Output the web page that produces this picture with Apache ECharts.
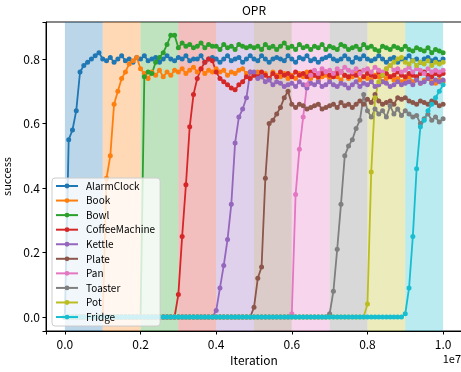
<!DOCTYPE html>
<html><head><meta charset="utf-8">
<script src="https://cdn.jsdelivr.net/npm/echarts@6/dist/echarts.min.js"></script>
<style>html,body{margin:0;padding:0;background:#fff}#c{width:461px;height:372px}</style>
</head><body><div id="c"></div>
<script>
const FONT = '"Noto Sans CJK SC", "Noto Sans", sans-serif';
const names = ['AlarmClock','Book','Bowl','CoffeeMachine','Kettle','Plate','Pan','Toaster','Pot','Fridge'];
const colors = ['#1f77b4','#ff7f0e','#2ca02c','#d62728','#9467bd','#8c564b','#e377c2','#7f7f7f','#bcbd22','#17becf'];
const stageEdges = [0,1e6,2e6,3e6,4e6,5e6,6e6,7e6,8e6,9e6,1e7];
const xTicks = [0,2e6,4e6,6e6,8e6,1e7];
const yTicks = [0,0.2,0.4,0.6,0.8];
const iterations = [
 0,1e5,2e5,3e5,4e5,5e5,6e5,7e5,8e5,9e5,
 1e6,1.1e6,1.2e6,1.3e6,1.4e6,1.5e6,1.6e6,1.7e6,1.8e6,1.9e6,
 2e6,2.1e6,2.2e6,2.3e6,2.4e6,2.5e6,2.6e6,2.7e6,2.8e6,2.9e6,
 3e6,3.1e6,3.2e6,3.3e6,3.4e6,3.5e6,3.6e6,3.7e6,3.8e6,3.9e6,
 4e6,4.1e6,4.2e6,4.3e6,4.4e6,4.5e6,4.6e6,4.7e6,4.8e6,4.9e6,
 5e6,5.1e6,5.2e6,5.3e6,5.4e6,5.5e6,5.6e6,5.7e6,5.8e6,5.9e6,
 6e6,6.1e6,6.2e6,6.3e6,6.4e6,6.5e6,6.6e6,6.7e6,6.8e6,6.9e6,
 7e6,7.1e6,7.2e6,7.3e6,7.4e6,7.5e6,7.6e6,7.7e6,7.8e6,7.9e6,
 8e6,8.1e6,8.2e6,8.3e6,8.4e6,8.5e6,8.6e6,8.7e6,8.8e6,8.9e6,
 9e6,9.1e6,9.2e6,9.3e6,9.4e6,9.5e6,9.6e6,9.7e6,9.8e6,9.9e6,
 1e7];

const alarmClock = [
 0,.55,.58,.64,.76,.78,.79,.80,.81,.82,
 .80,.795,.805,.79,.80,.81,.795,.80,.79,.805,
 .80,.81,.795,.80,.805,.79,.80,.81,.80,.795,
 .805,.80,.81,.795,.80,.80,.81,.79,.80,.805,
 .80,.79,.80,.81,.795,.80,.805,.79,.80,.81,
 .80,.795,.81,.80,.79,.80,.805,.80,.795,.81,
 .80,.79,.805,.80,.81,.795,.80,.79,.80,.805,
 .81,.80,.795,.80,.81,.80,.79,.805,.80,.81,
 .80,.795,.80,.81,.80,.79,.80,.805,.79,.80,
 .80,.81,.795,.80,.79,.80,.805,.795,.80,.79,
 .80];
const book = [
 0,0,0,0,0,0,0,0,0,0,
 0,.43,.50,.66,.70,.74,.76,.785,.795,.805,
 .77,.755,.74,.76,.75,.765,.745,.76,.75,.765,
 .76,.77,.755,.765,.775,.76,.77,.755,.765,.76,
 .77,.76,.765,.75,.76,.755,.765,.77,.755,.76,
 .75,.76,.745,.755,.74,.76,.75,.745,.755,.74,
 .75,.74,.755,.745,.76,.74,.75,.735,.745,.75,
 .74,.755,.745,.735,.75,.74,.745,.755,.735,.745,
 .74,.735,.75,.745,.73,.74,.745,.735,.74,.73,
 .735,.745,.73,.74,.725,.735,.74,.73,.725,.735,
 .73];
const bowl = [
 0,0,0,0,0,0,0,0,0,0,
 0,0,0,0,0,0,0,0,0,0,
 0,.745,.76,.755,.79,.805,.82,.845,.874,.874,
 .835,.85,.84,.845,.835,.84,.85,.835,.845,.84,
 .84,.83,.845,.835,.84,.83,.845,.84,.835,.84,
 .835,.84,.83,.845,.835,.84,.83,.84,.85,.835,
 .84,.83,.845,.835,.84,.83,.84,.835,.845,.83,
 .84,.835,.83,.845,.84,.83,.835,.84,.83,.845,
 .835,.84,.83,.825,.84,.835,.83,.84,.835,.83,
 .84,.83,.825,.835,.83,.825,.835,.82,.83,.825,
 .82];
const coffeeMachine = [
 0,0,0,0,0,0,0,0,0,0,
 0,0,0,0,0,0,0,0,0,0,
 0,0,0,0,0,0,0,0,0,0,
 .07,.25,.41,.59,.69,.74,.77,.79,.80,.795,
 .76,.74,.73,.72,.71,.705,.72,.73,.745,.74,
 .75,.745,.76,.75,.74,.755,.745,.76,.75,.755,
 .745,.76,.75,.755,.745,.76,.75,.745,.755,.76,
 .75,.745,.755,.76,.75,.745,.755,.75,.76,.745,
 .755,.75,.745,.76,.75,.755,.745,.75,.76,.75,
 .745,.755,.75,.745,.755,.76,.75,.745,.755,.75,
 .755];
const kettle = [
 0,0,0,0,0,0,0,0,0,0,
 0,0,0,0,0,0,0,0,0,0,
 0,0,0,0,0,0,0,0,0,0,
 0,0,0,0,0,0,0,0,0,0,
 .02,.09,.16,.24,.35,.54,.62,.645,.68,.76,
 .76,.74,.745,.73,.735,.72,.73,.725,.715,.72,
 .725,.715,.73,.72,.71,.725,.72,.73,.715,.72,
 .73,.72,.715,.725,.72,.71,.72,.73,.715,.725,
 .72,.73,.715,.72,.73,.725,.715,.72,.73,.72,
 .725,.73,.72,.735,.725,.73,.74,.725,.735,.73,
 .735];
const plate = [
 0,0,0,0,0,0,0,0,0,0,
 0,0,0,0,0,0,0,0,0,0,
 0,0,0,0,0,0,0,0,0,0,
 0,0,0,0,0,0,0,0,0,0,
 0,0,0,0,0,0,0,0,0,0,
 .03,.12,.155,.43,.60,.61,.63,.65,.68,.70,
 .66,.65,.66,.655,.645,.65,.655,.66,.645,.65,
 .655,.66,.65,.665,.655,.66,.65,.66,.67,.66,
 .675,.665,.69,.67,.66,.665,.67,.66,.68,.675,
 .68,.67,.665,.66,.67,.665,.66,.67,.665,.655,
 .66];
const pan = [
 0,0,0,0,0,0,0,0,0,0,
 0,0,0,0,0,0,0,0,0,0,
 0,0,0,0,0,0,0,0,0,0,
 0,0,0,0,0,0,0,0,0,0,
 0,0,0,0,0,0,0,0,0,0,
 0,0,0,0,0,0,0,0,0,0,
 .01,.38,.52,.62,.72,.75,.765,.755,.77,.76,
 .765,.755,.77,.76,.775,.765,.76,.77,.755,.765,
 .77,.76,.775,.765,.76,.77,.78,.765,.77,.76,
 .765,.775,.76,.77,.765,.755,.77,.76,.765,.76,
 .765];
const toaster = [
 0,0,0,0,0,0,0,0,0,0,
 0,0,0,0,0,0,0,0,0,0,
 0,0,0,0,0,0,0,0,0,0,
 0,0,0,0,0,0,0,0,0,0,
 0,0,0,0,0,0,0,0,0,0,
 0,0,0,0,0,0,0,0,0,0,
 0,0,0,0,0,0,0,0,0,0,
 .01,.08,.21,.35,.50,.53,.55,.585,.61,.69,
 .64,.62,.645,.63,.64,.62,.655,.63,.645,.625,
 .64,.63,.62,.625,.60,.615,.63,.61,.62,.605,
 .615];
const pot = [
 0,0,0,0,0,0,0,0,0,0,
 0,0,0,0,0,0,0,0,0,0,
 0,0,0,0,0,0,0,0,0,0,
 0,0,0,0,0,0,0,0,0,0,
 0,0,0,0,0,0,0,0,0,0,
 0,0,0,0,0,0,0,0,0,0,
 0,0,0,0,0,0,0,0,0,0,
 0,0,0,0,0,0,0,0,0,0,
 .04,.45,.68,.73,.75,.77,.78,.79,.80,.805,
 .79,.785,.795,.78,.79,.785,.795,.78,.79,.785,
 .79];
const fridge = [
 0,0,0,0,0,0,0,0,0,0,
 0,0,0,0,0,0,0,0,0,0,
 0,0,0,0,0,0,0,0,0,0,
 0,0,0,0,0,0,0,0,0,0,
 0,0,0,0,0,0,0,0,0,0,
 0,0,0,0,0,0,0,0,0,0,
 0,0,0,0,0,0,0,0,0,0,
 0,0,0,0,0,0,0,0,0,0,
 0,0,0,0,0,0,0,0,0,0,
 .01,.09,.25,.46,.59,.61,.64,.66,.68,.70,
 .72];
const seriesValues = [alarmClock, book, bowl, coffeeMachine, kettle, plate, pan, toaster, pot, fridge];

function rgba(hex, a) {
  const n = parseInt(hex.slice(1), 16);
  return 'rgba(' + ((n >> 16) & 255) + ',' + ((n >> 8) & 255) + ',' + (n & 255) + ',' + a + ')';
}
function isTick(list, v, tol) { return list.some(t => Math.abs(t - v) < tol); }

const chart = echarts.init(document.getElementById('c'), null, {renderer: 'canvas'});

const bandSeries = {
  type: 'line', data: [], z: 1, silent: true, animation: false,
  markArea: {
    silent: true,
    data: stageEdges.slice(0, -1).map((s, k) => [
      {xAxis: s, itemStyle: {color: rgba(colors[k], 0.3)}},
      {xAxis: stageEdges[k + 1]}
    ])
  }
};

const lineSeries = names.map((n, k) => ({
  name: n, type: 'line', z: 2,
  data: iterations.map((x, i) => [x, seriesValues[k][i]]),
  symbol: 'circle', symbolSize: 5, showSymbol: true,
  lineStyle: {width: 1.8, color: colors[k]},
  itemStyle: {color: colors[k]},
  emphasis: {disabled: true},
  animation: false
}));

chart.setOption({
  animation: false,
  textStyle: {fontFamily: FONT},
  grid: {left: 46, top: 22, right: -1, bottom: 41, outerBoundsMode: 'none', containLabel: false,
    show: true, borderColor: '#111', borderWidth: 1, backgroundColor: 'transparent'},
  xAxis: {
    type: 'value', min: -5e5, max: 1.05e7, splitNumber: 5,
    splitLine: {show: false},
    axisLine: {show: true, onZero: false, lineStyle: {color: '#000', width: 1}},
    axisTick: {show: true, length: 3.5, lineStyle: {color: '#000'}},
    axisLabel: {fontSize: 12, color: '#000', fontFamily: FONT, margin: 7,
      formatter: v => isTick(xTicks, v, 1) ? (v / 1e7).toFixed(1) : ''},
    name: 'Iteration', nameLocation: 'middle', nameGap: 20,
    nameTextStyle: {fontSize: 12, color: '#000', fontFamily: FONT}
  },
  yAxis: {
    type: 'value', min: -0.0435, max: 0.915, splitNumber: 5,
    splitLine: {show: false},
    axisLine: {show: true, onZero: false, lineStyle: {color: '#000', width: 1}},
    axisTick: {show: true, length: 3.5, lineStyle: {color: '#000'}},
    axisLabel: {fontSize: 12, color: '#000', fontFamily: FONT, margin: 6,
      formatter: v => isTick(yTicks, v, 1e-6) ? v.toFixed(1) : ''},
    name: 'success', nameLocation: 'middle', nameGap: 28,
    nameTextStyle: {fontSize: 11, color: '#000', fontFamily: FONT}
  },
  legend: {
    data: names, orient: 'vertical', left: 52, top: 178,
    itemWidth: 22, itemHeight: 6, itemGap: 4.56,
    padding: [3, 5, 4, 3],
    backgroundColor: 'rgba(255,255,255,0.8)', borderColor: '#cccccc', borderWidth: 1, borderRadius: 3,
    textStyle: {fontSize: 10, color: '#000', fontFamily: FONT, padding: [0, 0, 0, 3]}
  },
  graphic: [
    {type: 'text', x: 254, y: 10, style: {text: 'OPR', font: '12px ' + FONT, fill: '#000', textAlign: 'center', textVerticalAlign: 'middle'}},
    {type: 'text', x: 461, y: 359, style: {text: '1e7', font: '11px ' + FONT, fill: '#000', textAlign: 'right', textVerticalAlign: 'middle'}}
  ],
  series: [bandSeries].concat(lineSeries)
});
</script>
</body></html>
